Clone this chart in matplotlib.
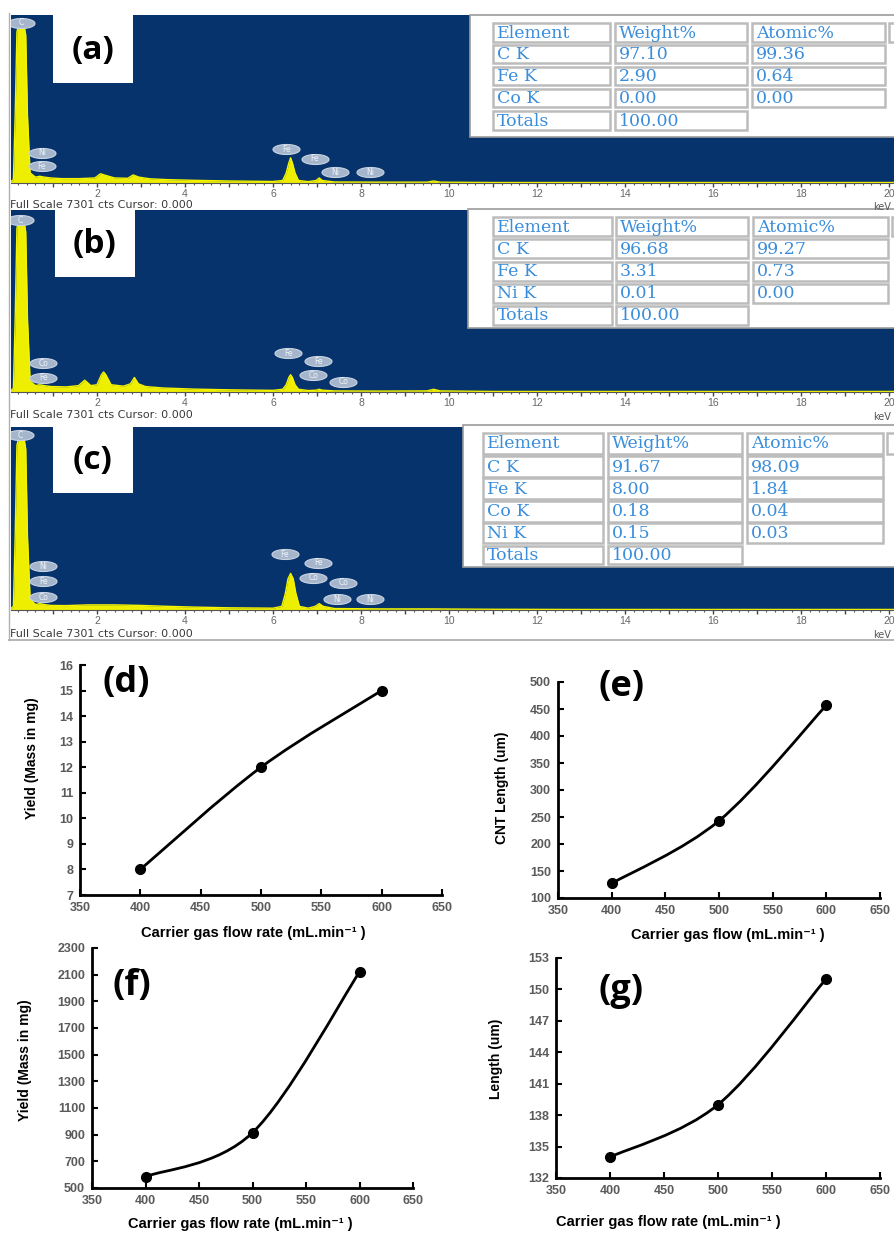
import numpy as np
import matplotlib
matplotlib.use("Agg")
import matplotlib.pyplot as plt
from matplotlib.patches import Rectangle, PathPatch
from matplotlib.path import Path
from matplotlib.ticker import MultipleLocator, FuncFormatter

plt.rcParams['font.family'] = ['Liberation Sans', 'DejaVu Sans']

W, H = 894, 1234

# ---------------- EDS spectra data (keV, % of full scale) ----------------
kev_a = [0.0, 0.1, 0.14, 0.18, 0.22, 0.34, 0.38, 0.42, 0.48, 0.6,
         0.7, 0.8, 0.95, 1.2, 1.6, 1.95, 2.08, 2.2, 2.4, 2.7,
         2.82, 2.95, 3.2, 3.6, 4.2, 5.0, 6.0, 6.22, 6.3, 6.36,
         6.4, 6.44, 6.5, 6.58, 6.8, 6.98, 7.05, 7.12, 7.4, 8.5,
         9.5, 9.65, 9.8, 11.0, 13.0, 20.2]
cnt_a = [0, 2, 40, 90, 94, 94, 88, 40, 6, 3.5,
         4, 3.5, 3, 2.6, 2.6, 3, 5.5, 4.5, 3, 2.8,
         4.8, 3.5, 2.5, 2, 1.6, 1.2, 0.9, 1.5, 6, 12,
         15, 12, 6, 1.5, 0.8, 1.5, 3, 1.5, 0.6, 0.5,
         0.5, 1.2, 0.5, 0.3, 0.3, 0.3]

kev_b = [0.0, 0.1, 0.14, 0.18, 0.22, 0.34, 0.38, 0.42, 0.48, 0.6,
         0.7, 0.8, 0.95, 1.3, 1.58, 1.72, 1.86, 2.0, 2.1, 2.15,
         2.2, 2.32, 2.6, 2.76, 2.85, 2.94, 3.1, 3.5, 4.2, 5.0,
         6.0, 6.22, 6.3, 6.36, 6.4, 6.44, 6.5, 6.58, 6.8, 6.98,
         7.05, 7.12, 7.4, 8.5, 9.5, 9.65, 9.8, 11.0, 13.0, 20.2]
cnt_b = [0, 2, 40, 90, 94, 94, 88, 40, 6, 3.5,
         4, 3.5, 3, 2.8, 3.5, 6.5, 3.5, 4, 9.5, 11,
         9.5, 4, 3.2, 4.5, 8, 4.5, 3, 2.2, 1.6, 1.2,
         0.9, 1.5, 4, 8, 9.5, 8, 4, 1.5, 0.8, 1.0,
         1.5, 1.0, 0.6, 0.5, 0.6, 1.5, 0.6, 0.3, 0.3, 0.3]

kev_c = [0.0, 0.1, 0.14, 0.18, 0.22, 0.34, 0.38, 0.42, 0.48, 0.6,
         0.7, 0.8, 0.95, 1.3, 1.8, 2.4, 3.0, 3.6, 4.2, 5.0,
         6.0, 6.2, 6.28, 6.34, 6.4, 6.46, 6.52, 6.6, 6.8, 6.96,
         7.05, 7.14, 7.4, 8.5, 9.5, 11.0, 13.0, 20.2]
cnt_c = [0, 2, 40, 90, 94, 94, 88, 40, 6, 3.0,
         3.5, 3, 2.5, 2.4, 2.8, 2.8, 2.5, 2, 1.6, 1.2,
         1.0, 2.0, 9, 17, 20, 17, 9, 2.0, 1.0, 2.0,
         3.5, 2.0, 0.8, 0.6, 0.6, 0.4, 0.3, 0.3]

# peak marker labels: element, keV, level (%)
lab_el_a = ["C", "Ni", "Fe", "Fe", "Fe", "Ni", "Ni"]
lab_kev_a = [0.28, 0.75, 0.75, 6.3, 6.95, 7.41, 8.2]
lab_lvl_a = [95.5, 17.9, 10.1, 20.2, 14.3, 6.5, 6.5]

lab_el_b = ["C", "Co", "Fe", "Fe", "Fe", "Co", "Co"]
lab_kev_b = [0.26, 0.78, 0.78, 6.35, 7.03, 6.92, 7.6]
lab_lvl_b = [94.5, 15.9, 7.7, 21.4, 17.0, 9.3, 5.5]

lab_el_c = ["C", "Ni", "Fe", "Co", "Fe", "Fe", "Co", "Co", "Ni", "Ni"]
lab_kev_c = [0.26, 0.78, 0.78, 0.78, 6.27, 7.03, 6.92, 7.6, 7.45, 8.2]
lab_lvl_c = [95.6, 24.0, 15.8, 7.1, 30.6, 25.7, 17.5, 14.8, 6.0, 6.0]

full_scale = "Full Scale 7301 cts Cursor: 0.000"

# ---------------- tables ----------------
tab_header = ["Element", "Weight%", "Atomic%"]
tab_el_a = ["C K", "Fe K", "Co K"]
tab_wt_a = [97.10, 2.90, 0.00]
tab_at_a = [99.36, 0.64, 0.00]
tab_el_b = ["C K", "Fe K", "Ni K"]
tab_wt_b = [96.68, 3.31, 0.01]
tab_at_b = [99.27, 0.73, 0.00]
tab_el_c = ["C K", "Fe K", "Co K", "Ni K"]
tab_wt_c = [91.67, 8.00, 0.18, 0.15]
tab_at_c = [98.09, 1.84, 0.04, 0.03]
tab_total = 100.00

# ---------------- line charts ----------------
flow = [400, 500, 600]
yield_d = [8, 12, 15]
length_e = [127, 243, 457]
yield_f = [585, 915, 2120]
length_g = [134, 139, 151]

fig = plt.figure(figsize=(W / 100, H / 100), dpi=100)


def add_px(x0, y0, x1, y1):
    return fig.add_axes([x0 / W, 1 - y1 / H, (x1 - x0) / W, (y1 - y0) / H])


BLUE = '#06336b'
YEL = '#eeee00'


def spectrum(y0, y1, kev, cnt, els, lk, ll):
    ax = add_px(11, y0, 894, y1)
    ax.set_facecolor(BLUE)
    ax.fill_between(kev, cnt, 0, color=YEL, lw=0)
    ax.plot(kev, cnt, color='#f4f400', lw=1.0)
    ax.set_xlim((11 - 9) / 44, (894 - 9) / 44)
    ax.set_ylim(0, 100)
    ax.set_yticks([])
    for s in ['top', 'right', 'left']:
        ax.spines[s].set_visible(False)
    ax.spines['bottom'].set_color('#555555')
    ax.spines['bottom'].set_linewidth(0.8)
    ax.xaxis.set_major_locator(MultipleLocator(1))
    ax.xaxis.set_minor_locator(MultipleLocator(0.2))
    ax.xaxis.set_major_formatter(FuncFormatter(
        lambda v, p: '%d' % v if (round(v) % 2 == 0 and round(v) > 0) else ''))
    ax.tick_params(axis='x', which='major', direction='out', length=3,
                   width=1, color='#444444', labelsize=7.5, labelcolor='#666666', pad=1)
    ax.tick_params(axis='x', which='minor', direction='out', length=1.6,
                   width=0.8, color='#555555')
    ell = np.linspace(0, 2 * np.pi, 40)
    ellm = np.column_stack([1.35 * np.cos(ell), 0.5 * np.sin(ell)])
    ax.scatter(lk, ll, marker=ellm, s=380, c='#a5b6cc', edgecolors='#c9d4e2',
               linewidths=0.8, zorder=4)
    for e, k, l in zip(els, lk, ll):
        ax.text(k, l, e, ha='center', va='center', fontsize=5.5,
                color='#eef2f7', zorder=5, family='DejaVu Sans')
    return ax


spectrum(15, 183, kev_a, cnt_a, lab_el_a, lab_kev_a, lab_lvl_a)
spectrum(210, 392, kev_b, cnt_b, lab_el_b, lab_kev_b, lab_lvl_b)
spectrum(427, 610, kev_c, cnt_c, lab_el_c, lab_kev_c, lab_lvl_c)


# ---------------- line charts ----------------
def smooth_path(x, y):
    pts = np.column_stack([x, y]).astype(float)
    n = len(pts)
    verts = [pts[0]]
    codes = [Path.MOVETO]
    for i in range(n - 1):
        p0 = pts[max(i - 1, 0)]
        p1 = pts[i]
        p2 = pts[i + 1]
        p3 = pts[min(i + 2, n - 1)]
        verts += [p1 + (p2 - p0) / 6, p2 - (p3 - p1) / 6, p2]
        codes += [Path.CURVE4] * 3
    return Path(verts, codes)


def line_chart(box, x, y, ylim, ystep):
    ax = add_px(*box)
    ax.add_patch(PathPatch(smooth_path(x, y), fill=False, lw=2, color='black'))
    ax.plot(x, y, 'o', color='black', ms=7, clip_on=False, zorder=5)
    ax.set_xlim(350, 650)
    ax.set_ylim(*ylim)
    ax.set_xticks(np.arange(350, 651, 50))
    ax.set_yticks(np.arange(ylim[0], ylim[1] + 0.001, ystep))
    for s in ['top', 'right']:
        ax.spines[s].set_visible(False)
    for s in ['left', 'bottom']:
        ax.spines[s].set_linewidth(2)
        ax.spines[s].set_color('black')
    ax.tick_params(direction='in', length=4, width=1.5, color='black',
                   labelsize=9, labelcolor='#5a5a5a', pad=5)
    for lbl in ax.get_xticklabels() + ax.get_yticklabels():
        lbl.set_fontweight('bold')
    return ax


line_chart((80, 665, 442, 895), flow, yield_d, (7, 16), 1)
line_chart((558, 682, 880, 898), flow, length_e, (100, 500), 50)
line_chart((92, 948, 413, 1188), flow, yield_f, (500, 2300), 200)
line_chart((556, 958, 880, 1178), flow, length_g, (132, 153), 3)

# ---------------- overlay (pixel coordinates) ----------------
ov = fig.add_axes([0, 0, 1, 1])
ov.set_xlim(0, W)
ov.set_ylim(H, 0)
ov.axis('off')
ov.set_zorder(10)
ov.patch.set_visible(False)

# frame lines of the EDS screenshot
ov.plot([9, 9], [13, 640], color='#b0b0b0', lw=1)
ov.plot([9, 894], [640, 640], color='#a8a8a8', lw=1.2)

for yfs, ykev in [(205, 207), (415, 417), (634, 635)]:
    ov.text(10, yfs, full_scale, ha='left', va='center', fontsize=8,
            color='#3a3a3a', family='DejaVu Sans')
    ov.text(873, ykev, 'keV', ha='left', va='center', fontsize=7,
            color='#555555', family='DejaVu Sans')

# white label boxes (a)(b)(c)
for (x0, y0, x1, y1), lab in [((53, 15, 133, 83), '(a)'),
                              ((55, 210, 135, 277), '(b)'),
                              ((53, 427, 133, 493), '(c)')]:
    ov.add_patch(Rectangle((x0, y0), x1 - x0, y1 - y0, fc='white', ec='none'))
    ov.text((x0 + x1) / 2, (y0 + y1) / 2 + 1, lab, ha='center', va='center',
            fontsize=24, fontweight='bold', family='Open Sans', color='black')

TBLUE = '#3a8ddb'


def table(box, cols, rows, els, wt, at, extra):
    bx0, by0, by1 = box
    ov.add_patch(Rectangle((bx0, by0), 900 - bx0, by1 - by0, fc='white',
                           ec='#9c9c9c', lw=1.2))

    def cell(c, r, txt):
        x0, x1 = cols[c]
        y0, y1 = rows[r]
        ov.add_patch(Rectangle((x0, y0), x1 - x0, y1 - y0, fc='white',
                               ec='#bcbcbc', lw=1.8))
        ov.text(x0 + 4, (y0 + y1) / 2 + 0.5, txt, ha='left', va='center',
                fontsize=12.5, color=TBLUE, family='DejaVu Serif')

    for c, h in enumerate(tab_header):
        cell(c, 0, h)
    ov.add_patch(Rectangle((extra, rows[0][0]), 20, rows[0][1] - rows[0][0],
                           fc='white', ec='#bcbcbc', lw=1.8))
    for i, (e, w, a) in enumerate(zip(els, wt, at)):
        cell(0, i + 1, e)
        cell(1, i + 1, '%.2f' % w)
        cell(2, i + 1, '%.2f' % a)
    cell(0, len(els) + 1, 'Totals')
    cell(1, len(els) + 1, '%.2f' % tab_total)


table((470, 15, 137), [(493, 610), (615, 747), (752, 885)],
      [(23, 42), (45, 63), (67, 85), (89, 107), (111, 130)],
      tab_el_a, tab_wt_a, tab_at_a, 889)
table((468, 209, 328), [(493, 612), (616, 748), (753, 888)],
      [(217, 236), (239, 258), (262, 281), (284, 303), (306, 325)],
      tab_el_b, tab_wt_b, tab_at_b, 892)
table((463, 425, 567), [(483, 603), (608, 742), (747, 883)],
      [(433, 454), (456, 477), (478, 499), (501, 522), (523, 543), (546, 564)],
      tab_el_c, tab_wt_c, tab_at_c, 887)

# panel letters of line charts
for x, y, lab in [(102, 683, '(d)'), (598, 687, '(e)'),
                  (112, 986, '(f)'), (598, 991, '(g)')]:
    ov.text(x, y, lab, ha='left', va='center', fontsize=26,
            fontweight='bold', family='Open Sans', color='black')

xl_rate = 'Carrier gas flow rate (mL.min\u207b\u00b9 )'
xl_flow = 'Carrier gas flow (mL.min\u207b\u00b9 )'
for x, y, t in [(253, 933, xl_rate), (728, 935, xl_flow),
                (240, 1224, xl_rate), (668, 1222, xl_rate)]:
    ov.text(x, y, t, ha='center', va='center', fontsize=10.5,
            fontweight='bold', color='black')
for x, y, t in [(32, 758, 'Yield (Mass in mg)'), (502, 788, 'CNT Length (um)'),
                (25, 1060, 'Yield (Mass in mg)'), (496, 1059, 'Length (um)')]:
    ov.text(x, y, t, ha='center', va='center', fontsize=10,
            fontweight='bold', color='black', rotation=90)

fig.savefig('out.png', dpi=100)
